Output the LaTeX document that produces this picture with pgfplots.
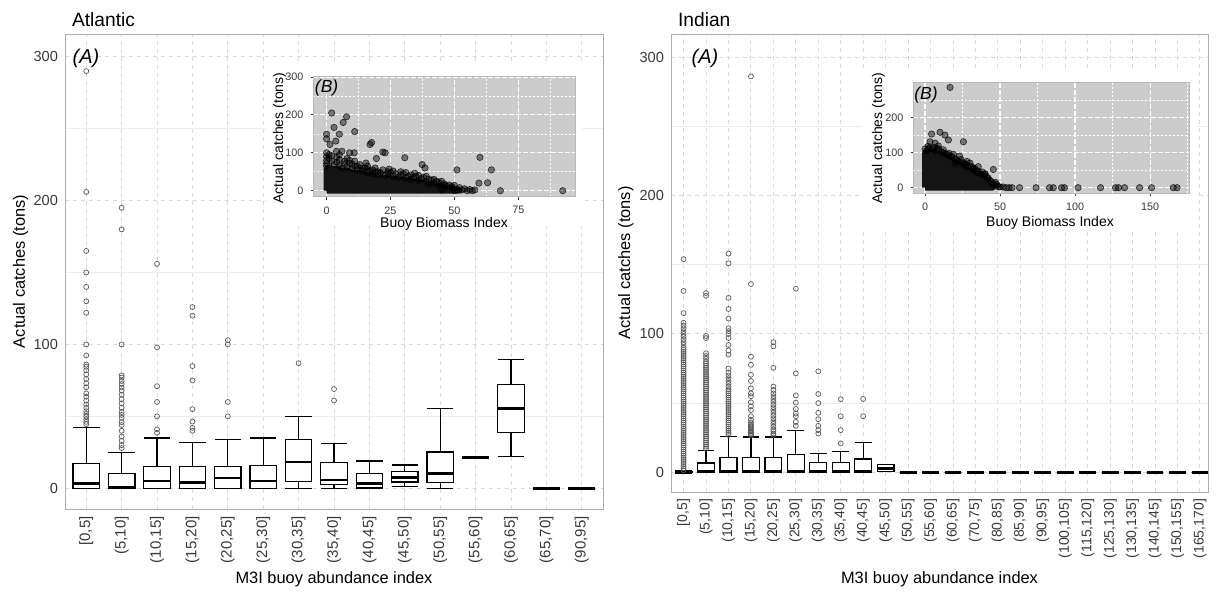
\documentclass[border=0pt]{standalone}
\usepackage{pgfplots}
\pgfplotsset{compat=1.18}
\usepgfplotslibrary{statistics}
\usepackage{fontspec}
\setmainfont{Liberation Sans}
\definecolor{tickgray}{gray}{0.22}
\definecolor{framegray}{gray}{0.68}
\definecolor{majgrid}{gray}{0.85}
\definecolor{mingrid}{gray}{0.93}
\definecolor{insetbg}{gray}{0.80}
\definecolor{outl}{gray}{0.35}

\pgfplotsset{
  /pgf/number format/assume math mode=true,
  mainax/.style={
    scale only axis, anchor=south west,
    ytick={0,100,200,300}, minor ytick={50,150,250},
    xmajorgrids, ymajorgrids, yminorgrids,
    major grid style={majgrid, dash pattern=on 2.2pt off 1.8pt, line width=0.45pt},
    minor grid style={mingrid, line width=0.45pt},
    axis line style={framegray, line width=0.5pt},
    major tick length=0pt, minor tick length=0pt,
    yticklabel style={font=\fontsize{7.3}{8}\selectfont, text=tickgray},
    xticklabel style={rotate=90, anchor=east, text=tickgray},
  },
  bxs/.style={black, line width=0.6pt, solid,
    mark=o, mark size=1.25pt, mark options={draw=outl, line width=0.35pt, fill=none},
    boxplot/draw direction=y,
    boxplot/box extend=0.75, boxplot/whisker extend=0.75,
    boxplot/every box/.style={fill=white},
    boxplot/every median/.style={line width=1.3pt}},
  inax/.style={
    scale only axis, anchor=south west,
    axis background/.style={fill=insetbg},
    xmajorgrids, ymajorgrids, xminorgrids, yminorgrids,
    major grid style={white, dash pattern=on 2.5pt off 1pt, line width=0.55pt},
    minor grid style={white, dash pattern=on 1pt off 1pt, line width=0.35pt},
    axis line style={gray!55, line width=0.4pt},
    tick align=outside, major tick length=1.4pt, minor tick length=0pt,
    tick style={tickgray, line width=0.4pt},
    xtick pos=left, ytick pos=left,
    tick label style={font=\fontsize{5.4}{6}\selectfont, text=tickgray},
  },
  scat/.style={only marks, mark=*, mark size=1.6pt,
    mark options={fill=black, fill opacity=0.45, draw=black, draw opacity=0.75, line width=0.3pt}},
  blob/.style={fill=black!92, draw=black!92, line width=3pt, line join=round, mark=none},
}

\newcommand{\bxo}[7]{\addplot[bxs, boxplot prepared={draw position=#1, lower whisker=#2, lower quartile=#3, median=#4, upper quartile=#5, upper whisker=#6}] table[row sep=\\, y index=0] {data\\#7};}
\newcommand{\bxn}[6]{\addplot[bxs, boxplot prepared={draw position=#1, lower whisker=#2, lower quartile=#3, median=#4, upper quartile=#5, upper whisker=#6}] coordinates {};}

\begin{document}
\begin{tikzpicture}
\path (0pt,0pt) rectangle (609.5pt,293.5pt);

% ---------------- Atlantic main ----------------
\begin{axis}[mainax, at={(32.5pt,38.85pt)}, width=269pt, height=237.5pt,
  xmin=-0.6, xmax=14.6, ymin=-14.6, ymax=315.6,
  xtick={0,...,14},
  xticklabels={{[0,5]},{(5,10]},{(10,15]},{(15,20]},{(20,25]},{(25,30]},{(30,35]},{(35,40]},{(40,45]},{(45,50]},{(50,55]},{(55,60]},{(60,65]},{(65,70]},{(90,95]}},
  xticklabel style={font=\fontsize{7.5}{8}\selectfont},
]
\bxo{0}{0}{0}{3.2}{17}{42.5}{44.6\\46.2\\48\\49.9\\51.7\\53.6\\55.9\\58.2\\61\\63.7\\66\\70.2\\73\\76\\79.2\\82\\84.5\\86\\92.4\\100\\122\\130\\140\\150\\165\\206\\290\\}
\bxo{1}{0}{0}{0.4}{10.2}{25}{28\\30\\33\\36\\40\\44\\46\\49\\51\\53\\56\\59\\62\\65\\68\\70\\72.5\\74.6\\77\\78.5\\100\\180\\195\\}
\bxo{2}{0}{0}{5}{15.2}{35}{38.6\\41\\50\\60\\71\\98\\156\\}
\bxo{3}{0}{0}{4.2}{15.2}{32}{40\\42\\46.4\\55\\75\\85\\120\\126\\}
\bxo{4}{0}{0}{7.2}{15}{34.2}{50\\60\\100\\103\\}
\bxn{5}{0}{0}{5}{16}{35}
\bxo{6}{0}{4.6}{18.2}{33.7}{50}{87\\}
\bxo{7}{0}{2.5}{5.8}{18}{31.2}{61\\69\\}
\bxn{8}{0}{0.5}{3.2}{10.2}{19}
\bxn{9}{1.2}{4.4}{7.6}{11.8}{16.2}
\bxn{10}{0}{4}{10.4}{25.2}{55.2}
\bxn{11}{21.3}{21.3}{21.3}{21.3}{21.3}
\bxn{12}{22.2}{38.6}{55.4}{72.3}{89.8}
\bxn{13}{0}{0}{0}{0}{0}
\bxn{14}{0}{0}{0}{0}{0}
\end{axis}

% ---------------- Indian main ----------------
\begin{axis}[mainax, at={(335.5pt,47.5pt)}, width=268.5pt, height=229pt,
  xmin=-0.56, xmax=23.36, ymin=-14.2, ymax=316.6,
  xtick={0,...,23},
  xticklabels={{[0,5]},{(5,10]},{(10,15]},{(15,20]},{(20,25]},{(25,30]},{(30,35]},{(35,40]},{(40,45]},{(45,50]},{(50,55]},{(55,60]},{(60,65]},{(70,75]},{(80,85]},{(85,90]},{(90,95]},{(100,105]},{(115,120]},{(125,130]},{(130,135]},{(140,145]},{(150,155]},{(165,170]}},
  xticklabel style={font=\fontsize{7}{8}\selectfont},
]
\bxo{0}{0}{0}{0}{0.5}{1.2}{1.5\\3\\4.5\\6\\7.5\\9\\10.5\\12\\13.5\\15\\16.5\\18\\19.5\\21\\22.5\\24\\25.5\\27\\28.5\\30\\31.5\\33\\34.5\\36\\37.5\\39\\40.5\\42\\43.5\\45\\46.5\\48\\49.5\\51\\52.5\\54\\55.5\\57\\58.5\\60\\61.5\\63\\64.5\\66\\67.5\\69\\70.5\\72\\73.5\\75\\76.5\\78\\79.5\\81\\82.5\\84\\85.5\\87\\88.5\\90\\92\\94\\96\\98\\100\\102\\104\\106\\108\\115\\131\\154\\}
\bxo{1}{0}{0}{0.5}{6.7}{15.6}{17\\18.5\\20\\21.5\\23\\24.5\\26\\27.5\\29\\30.5\\32\\33.5\\35\\36.5\\38\\39.5\\41\\42.5\\44\\45.5\\47\\48.5\\50\\51.5\\53\\54.5\\56\\57.5\\59\\60.5\\62\\63.5\\65\\66.5\\68\\69.5\\71\\72.5\\74\\75.5\\77\\78.5\\80\\82\\84\\86\\97\\98.5\\127.5\\129.5\\}
\bxo{2}{0}{0}{1}{10.5}{25.7}{27\\28.5\\30\\31.5\\33\\34.5\\36\\37.5\\39\\40.5\\42\\43.5\\45\\46.5\\48\\49.5\\51\\52.5\\54\\55.5\\57\\58.5\\60\\62\\64\\66\\68\\70\\72\\75\\85\\88\\92\\97\\100\\102\\104\\111\\118\\126\\151\\158\\}
\bxo{3}{0}{0}{1}{10.5}{25.5}{26.5\\27.5\\28.5\\29.5\\30.5\\31.5\\32.5\\33.5\\34.5\\36\\38\\40.5\\45\\47.7\\50.6\\55\\57\\60.7\\66\\70.5\\77.7\\83.5\\136\\286\\}
\bxo{4}{0}{0}{1}{10.5}{25.5}{27\\28\\29.5\\31\\33\\35\\37\\39\\41\\43\\45\\47\\49\\51\\53\\55\\57\\59.5\\62\\75.5\\91\\94\\}
\bxo{5}{0}{0}{0.5}{13}{30.5}{33.6\\36.4\\40.5\\42.5\\45.8\\50.4\\55.6\\71.5\\132.6\\}
\bxo{6}{0}{0}{1}{7.4}{13.7}{28\\30.5\\33.6\\38.4\\43\\50\\56.6\\73\\}
\bxo{7}{0}{0}{0.5}{7}{15.3}{20.9\\30.5\\40.5\\52.8\\}
\bxo{8}{0}{0}{1}{9.6}{21.6}{40.5\\53\\}
\bxn{9}{0.7}{0.7}{2.7}{5.5}{5.5}
\bxn{10}{0}{0}{0}{0}{0}
\bxn{11}{0}{0}{0}{0}{0}
\bxn{12}{0}{0}{0}{0}{0}
\bxn{13}{0}{0}{0}{0}{0}
\bxn{14}{0}{0}{0}{0}{0}
\bxn{15}{0}{0}{0}{0}{0}
\bxn{16}{0}{0}{0}{0}{0}
\bxn{17}{0}{0}{0}{0}{0}
\bxn{18}{0}{0}{0}{0}{0}
\bxn{19}{0}{0}{0}{0}{0}
\bxn{20}{0}{0}{0}{0}{0}
\bxn{21}{0}{0}{0}{0}{0}
\bxn{22}{0}{0}{0}{0}{0}
\bxn{23}{0}{0}{0}{0}{0}
\end{axis}

% white backgrounds of the insets
\fill[white] (133pt,180.5pt) rectangle (291pt,262pt);
\fill[white] (431pt,178.5pt) rectangle (598.5pt,259.5pt);

% ---------------- Atlantic inset ----------------
\begin{axis}[inax, at={(156.65pt,195.15pt)}, width=131.1pt, height=60.1pt,
  xmin=-5.2, xmax=97.4, ymin=-15.8, ymax=301.3,
  xtick={0,25,50,75}, minor xtick={12.5,37.5,62.5,87.5},
  ytick={0,100,200,300}, minor ytick={50,150,250},
]
\addplot[blob] coordinates {(0,0) (0,58) (1,62) (2.5,56) (4,58) (6,52) (8,54) (10,48) (12,46) (14,44) (16,40) (19,38) (22,34) (25,32) (28,30) (31,27) (34,24) (37,22) (40,17) (43,13) (46,9) (49,5) (51,1) (52,0) (0,0)};
\addplot[scat] coordinates {
(0,149) (0,137) (1.3,122) (2,205) (2.9,167) (3.6,131) (5,149) (6.5,180) (7.8,195) (9,100) (10.8,100) (11,156)
(7,78) (13,69) (15.4,73) (17,122) (17.6,127) (19.5,85) (22,102) (22.9,100) (24.5,57) (21,46) (30.6,87) (31,48)
(34.5,46) (37.4,69) (38.5,60) (51,55) (59.6,20) (60,88) (63,21) (64.5,55) (68,0) (92.4,0) (40,18) (44,16) (46,18)
(49,11) (51,4) (45,2) (0,100) (0,90) (0,80) (0,72) (0,65) (1,85) (2,78) (3,70) (3.9,104) (4,75) (5,66) (6,60) (8,62)
(10,58) (12,55) (14,52) (16,48) (18,45) (20,42) (23,40) (26,38) (28,35) (31,33) (33,30) (36,28) (39,24) (42,20)
(47,12) (49,8) (53,2) (55,0) (56,3) (48,15) (36,40) (27,45) (26,52) (18,55) (12,65) (9,72) (15,60) (20,50) (6,104)
(1,95) (2,92) (4,88) (5,82) (7,70) (9,80) (10,70) (11,65) (13,60) (14,58) (16,56) (17,52) (19,50) (21,48) (22,55)
(24,45) (25,48) (29,42) (30,45) (32,38) (34,35) (35,38) (37,32) (38,35) (40,30) (41,28) (43,25) (44,22) (46,14)
(50,14) (52,8) (54,5) (57,0) (58,2) (50,0) (45,25) (42,30) (39,38) (33,42) (29,50) (24,50) (19,60) (16,65) (11,78)
(8,85) (5,95)
};
\end{axis}

% ---------------- Indian inset ----------------
\begin{axis}[inax, at={(456.65pt,196.85pt)}, width=137.8pt, height=55.4pt,
  xmin=-7.8, xmax=175.9, ymin=-16, ymax=300,
  xtick={0,50,100,150}, minor xtick={25,75,125,175},
  ytick={0,100,200}, minor ytick={50,150,250},
]
\addplot[blob] coordinates {(0,0) (0,100) (2,104) (4,98) (6,102) (8,96) (10,98) (12,90) (14,88) (16,82) (18,78) (21,70) (24,64) (27,56) (30,48) (33,42) (36,36) (39,28) (42,20) (44,10) (45,0) (0,0)};
\addplot[scat] coordinates {
(16.7,286) (4.4,153) (10,158) (13.3,150) (15.6,136) (25.6,131) (2.2,112) (3.3,131) (6.7,127) (8.9,119) (12.2,108)
(23,90) (25.6,71) (30,70) (35.5,60) (40,38) (45.5,52) (49,3) (54,0) (56,0) (58,0) (63,0) (74,0) (83,0) (85.5,0)
(91,0) (93,0) (102,0) (117,0) (127,0) (129,0) (133,0) (143,0) (151,0) (165.5,0) (168,0)
(0,110) (1,105) (5,110) (7,104) (11,102) (14,96) (17,90) (20,82) (22,76) (26,66) (28,60) (32,52) (34,45) (37,40)
(41,30) (43,22) (46,12) (47,5) (50,2) (19,95) (28,75) (38,45) (31,60) (20,70)
(2,118) (3,112) (6,115) (9,110) (12,100) (15,94) (18,88) (21,80) (24,72) (27,68) (29,62) (32,56) (35,48) (36,42)
(39,36) (42,28) (44,18) (45,10) (48,8) (52,2) (47,15) (40,40) (33,55) (24,80) (16,98) (8,112)
};
\end{axis}

% ---------------- text ----------------
\node[anchor=base west, font=\fontsize{9.6}{11}\selectfont] at (32.5pt,280pt) {Atlantic};
\node[anchor=base west, font=\fontsize{9.6}{11}\selectfont] at (335.5pt,280pt) {Indian};
\node[rotate=90, anchor=base, font=\fontsize{8.2}{9}\selectfont] at (12.5pt,157.75pt) {Actual catches (tons)};
\node[rotate=90, anchor=base, font=\fontsize{8.2}{9}\selectfont] at (315pt,162pt) {Actual catches (tons)};
\node[anchor=base, font=\fontsize{8.2}{9}\selectfont] at (167pt,2pt) {M3I buoy abundance index};
\node[anchor=base, font=\fontsize{8.2}{9}\selectfont] at (469.75pt,2pt) {M3I buoy abundance index};
\node[font=\fontsize{10}{11}\selectfont\itshape] at (43pt,264.5pt) {(A)};
\node[font=\fontsize{10}{11}\selectfont\itshape] at (352.5pt,264.5pt) {(A)};
\node[font=\fontsize{8.75}{10}\selectfont\itshape] at (163.3pt,249.5pt) {(B)};
\node[font=\fontsize{8.75}{10}\selectfont\itshape] at (463pt,246pt) {(B)};
\node[rotate=90, anchor=base, font=\fontsize{7}{8}\selectfont] at (141.5pt,224.5pt) {Actual catches (tons)};
\node[anchor=base, font=\fontsize{7}{8}\selectfont] at (222pt,180pt) {Buoy Biomass Index};
\node[rotate=90, anchor=base, font=\fontsize{7}{8}\selectfont] at (441pt,224.5pt) {Actual catches (tons)};
\node[anchor=base, font=\fontsize{7}{8}\selectfont] at (525pt,180.5pt) {Buoy Biomass Index};
\end{tikzpicture}
\end{document}
